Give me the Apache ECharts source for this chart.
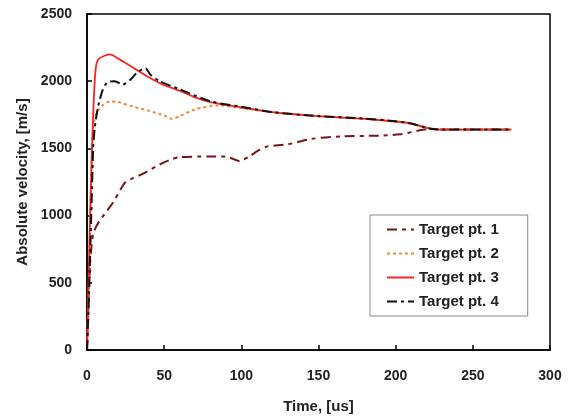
<!DOCTYPE html>
<html>
<head>
<meta charset="utf-8">
<script src="https://cdn.jsdelivr.net/npm/echarts@6/dist/echarts.min.js"></script>
<style>html,body{margin:0;padding:0;background:#fff}#c{width:575px;height:419px}</style>
</head>
<body>
<div id="c"></div>
<script>
const seriesNames = ['Target pt. 1', 'Target pt. 2', 'Target pt. 3', 'Target pt. 4'];
const xTicks = [0, 50, 100, 150, 200, 250, 300];
const yTicks = [0, 500, 1000, 1500, 2000, 2500];

const time1 = [0, 0.5, 1, 1.5, 2, 3, 4, 6, 10, 17, 22, 25, 30, 36, 47, 55, 60, 78, 90, 95, 99, 105, 112, 117, 130, 145, 165, 190, 203, 216, 222, 230, 275];
const vel1  = [0, 150, 350, 500, 650, 780, 860, 920, 990, 1100, 1200, 1250, 1280, 1310, 1380, 1420, 1435, 1440, 1440, 1420, 1405, 1440, 1490, 1515, 1530, 1570, 1590, 1595, 1605, 1635, 1645, 1640, 1640];

const time2 = [0, 1, 2, 3, 4, 6, 10, 15, 20, 30, 40, 50, 55, 60, 70, 85, 100, 120, 150, 180, 200, 210, 222, 230, 275];
const vel2  = [0, 400, 900, 1400, 1650, 1760, 1820, 1850, 1845, 1810, 1780, 1745, 1720, 1740, 1790, 1820, 1800, 1770, 1740, 1720, 1700, 1685, 1648, 1640, 1640];

const time3 = [0, 1, 2, 3, 4, 5, 6, 8, 15, 20, 30, 40, 50, 60, 70, 80, 100, 120, 150, 180, 200, 210, 222, 230, 275];
const vel3  = [0, 500, 1000, 1400, 1750, 2000, 2120, 2170, 2200, 2170, 2100, 2030, 1970, 1930, 1880, 1845, 1805, 1770, 1740, 1720, 1700, 1685, 1648, 1640, 1640];

const time4 = [0, 1, 2, 3, 4, 5, 7, 10, 13, 18, 23, 28, 33, 38, 41, 47, 60, 80, 100, 120, 150, 180, 200, 210, 222, 230, 275];
const vel4  = [0, 300, 700, 1100, 1500, 1650, 1800, 1930, 1990, 2000, 1975, 2010, 2070, 2095, 2050, 2000, 1940, 1850, 1810, 1770, 1740, 1722, 1702, 1685, 1648, 1640, 1640];

const colors = ['#7a1515', '#f08a3a', '#ff2020', '#111111'];
const dashes = [[10, 5, 4, 5], [3, 3], 'solid', [10, 4, 3, 4]];
const widths = [2, 2, 1.8, 2];

function pairs(xs, ys) { return xs.map((x, i) => [x, ys[i]]); }
const allData = [pairs(time1, vel1), pairs(time2, vel2), pairs(time3, vel3), pairs(time4, vel4)];

const chart = echarts.init(document.getElementById('c'), null, {renderer: 'canvas'});
const fontFam = 'Liberation Sans, Arial, sans-serif';
chart.setOption({
  animation: false,
  backgroundColor: '#fff',
  grid: {left: 87, right: 25, top: 14, bottom: 68, show: true, borderColor: '#000', borderWidth: 1.5, backgroundColor: 'transparent'},
  xAxis: {
    type: 'value', min: xTicks[0], max: xTicks[xTicks.length - 1], interval: 50,
    name: 'Time, [us]', nameLocation: 'middle', nameGap: 49,
    nameTextStyle: {fontFamily: fontFam, fontWeight: 'bold', fontSize: 15, color: '#222'},
    axisLine: {show: true, lineStyle: {color: '#000', width: 1.5}},
    axisTick: {show: true, inside: true, length: 5, lineStyle: {color: '#000', width: 1.5}},
    axisLabel: {fontFamily: fontFam, fontWeight: 'bold', fontSize: 14, color: '#222', margin: 19, formatter: v => String(v)},
    splitLine: {show: false}
  },
  yAxis: {
    type: 'value', min: yTicks[0], max: yTicks[yTicks.length - 1], interval: 500,
    name: 'Absolute velocity, [m/s]', nameLocation: 'middle', nameGap: 56, nameRotate: 90,
    nameTextStyle: {fontFamily: fontFam, fontWeight: 'bold', fontSize: 15, color: '#222'},
    axisLine: {show: true, lineStyle: {color: '#000', width: 1.5}},
    axisTick: {show: true, inside: true, length: 5, lineStyle: {color: '#000', width: 1.5}},
    axisLabel: {fontFamily: fontFam, fontWeight: 'bold', fontSize: 14, color: '#222', margin: 15, formatter: v => String(v)},
    splitLine: {show: false}
  },
  legend: {
    orient: 'vertical', left: 370, top: 215,
    padding: [7, 29, 7, 16],
    borderColor: '#888', borderWidth: 1, backgroundColor: '#fff',
    itemWidth: 27, itemHeight: 14, itemGap: 9,
    itemStyle: {opacity: 0},
    textStyle: {fontFamily: fontFam, fontWeight: 'bold', fontSize: 15, color: '#222'},
    data: seriesNames
  },
  series: seriesNames.map((n, i) => ({
    name: n, type: 'line', data: allData[i], showSymbol: false, symbol: 'none', smooth: 0.25,
    lineStyle: {color: colors[i], width: widths[i], type: dashes[i]},
    itemStyle: {color: colors[i]},
    z: [2, 3, 4, 5][i]
  }))
});
</script>
</body>
</html>
